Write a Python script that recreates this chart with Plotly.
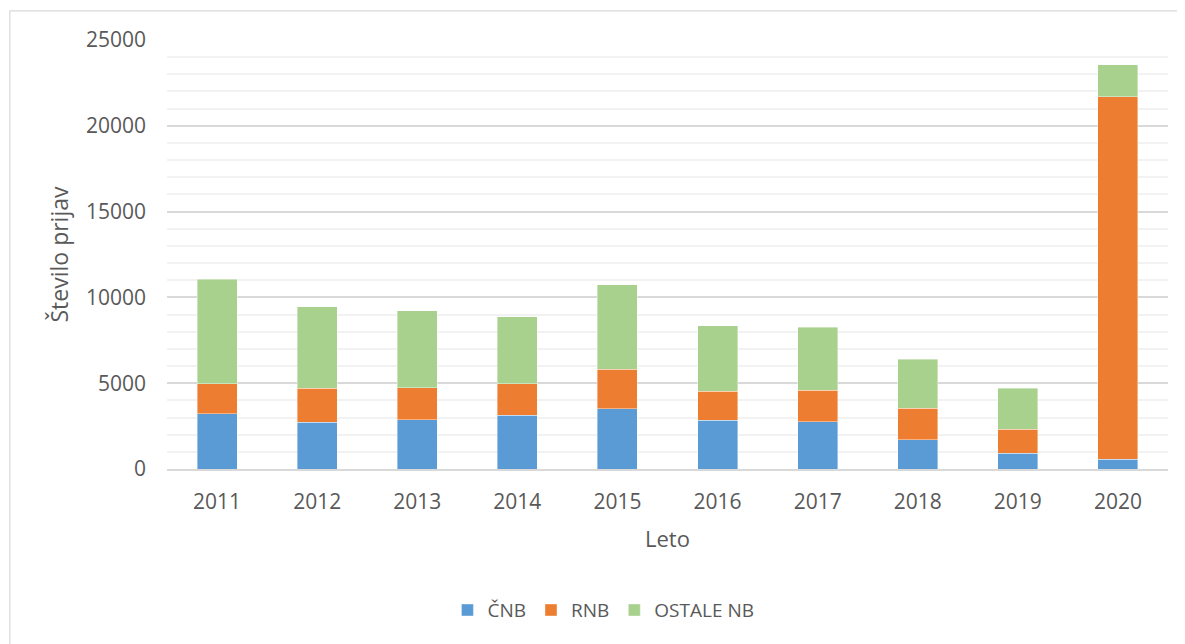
import plotly.graph_objects as go

years = ["2011", "2012", "2013", "2014", "2015", "2016", "2017", "2018", "2019", "2020"]
cnb = [3220, 2715, 2870, 3120, 3510, 2830, 2755, 1710, 910, 580]
rnb = [1750, 1995, 1860, 1845, 2305, 1690, 1840, 1820, 1400, 21100]
ostale = [6080, 4750, 4500, 3915, 4925, 3820, 3665, 2865, 2390, 1870]
series_names = ["ČNB", "RNB", "OSTALE NB"]
colors = ["#5B9BD5", "#ED7D31", "#A9D18E"]

FONT = "Open Sans"
TXT = "#595959"

fig = go.Figure()
for name, vals, col in zip(series_names, [cnb, rnb, ostale], colors):
    fig.add_trace(go.Bar(
        x=years, y=vals, name=name,
        marker=dict(color=col, line=dict(color="rgba(255,255,255,0.5)", width=0.8)),
    ))

fig.update_layout(
    barmode="stack",
    bargap=0.6,
    width=1185, height=644,
    margin=dict(l=159, r=25, t=32, b=183),
    paper_bgcolor="white", plot_bgcolor="white",
    font=dict(family=FONT, color=TXT, size=20),
    legend=dict(orientation="h", x=0.436, xanchor="center", y=-0.329, yanchor="middle",
                font=dict(size=19, color=TXT), traceorder="normal",
                itemwidth=30),
    xaxis=dict(
        title=dict(text="Leto", font=dict(size=22, color=TXT), standoff=18),
        tickfont=dict(size=21, color=TXT),
        showline=True, linecolor="#d9d9d9", linewidth=1.5,
        ticks="", ticklabelstandoff=13,
    ),
    yaxis=dict(
        title=dict(text="Število prijav", font=dict(size=23, color=TXT), standoff=10),
        tickfont=dict(size=21, color=TXT),
        range=[0, 25000], dtick=5000, tickformat="d",
        showgrid=True, gridcolor="#d9d9d9", gridwidth=1.5,
        minor=dict(dtick=1000, showgrid=True, gridcolor="#f2f2f2", gridwidth=1.5),
        zeroline=False, ticks="", ticklabelstandoff=20,
    ),
    shapes=[dict(type="rect", xref="paper", yref="paper",
                 x0=-0.157, x1=1.1, y0=-0.5, y1=1.068,
                 line=dict(color="#d9d9d9", width=1.2), fillcolor="rgba(0,0,0,0)",
                 layer="below")],
)

fig.write_html("out.html")
